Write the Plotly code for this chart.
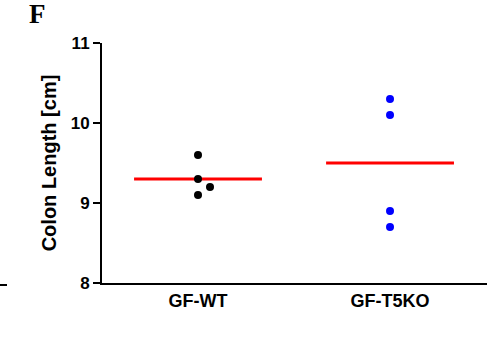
import plotly.graph_objects as go

categories = ["GF-WT", "GF-T5KO"]
wt_values = [9.6, 9.3, 9.1, 9.2]
ko_values = [10.3, 10.1, 8.9, 8.7]
wt_dodge = [0, 0, 0, 0.0625]
ko_dodge = [0, 0, 0, 0]
y_ticks = [8, 9, 10, 11]
panel_label = "F"

groups = [(wt_values, wt_dodge, "#000000"), (ko_values, ko_dodge, "#0000FF")]
half = 0.333

fig = go.Figure()
for i, (vals, dodge, col) in enumerate(groups):
    pos = i + 1
    mean = sum(vals) / len(vals)
    fig.add_trace(go.Scatter(x=[pos - half, pos + half], y=[mean, mean], mode="lines",
                             line=dict(color="#FF0000", width=3), showlegend=False, hoverinfo="skip"))
    fig.add_trace(go.Scatter(x=[pos + d for d in dodge], y=vals, mode="markers",
                             marker=dict(color=col, size=8), showlegend=False))

fig.update_layout(
    width=491, height=337,
    margin=dict(l=102, r=4, t=43, b=54),
    plot_bgcolor="white", paper_bgcolor="white",
    font=dict(family="Liberation Sans, Arial, sans-serif", color="black"),
    xaxis=dict(range=[0.5, 2.505], tickvals=[1, 2], ticktext=[f"<b>{c}</b>" for c in categories],
               tickfont=dict(size=18), showline=True, linecolor="black", linewidth=2,
               showgrid=False, zeroline=False, ticks="", ticklen=0),
    yaxis=dict(range=[8, 11], tickvals=y_ticks, ticktext=[f"<b>{t}</b>" for t in y_ticks],
               tickfont=dict(size=17), showline=True, linecolor="black", linewidth=2,
               showgrid=False, zeroline=False, ticks="outside", ticklen=7, tickwidth=2,
               tickcolor="black",
               title=dict(text="<b>Colon Length [cm]</b>", font=dict(size=20), standoff=9)),
    annotations=[dict(text=f"<b>{panel_label}</b>", xref="paper", yref="paper",
                      x=(27 - 102) / 385, y=1 + (43 - 14) / 240, xanchor="left", yanchor="middle",
                      showarrow=False, font=dict(family="Liberation Serif, Times New Roman, serif", size=27))],
    shapes=[dict(type="line", xref="paper", yref="paper", x0=-102 / 385, x1=(7 - 102) / 385,
                 y0=-2 / 240, y1=-2 / 240, line=dict(color="black", width=2))],
)

fig.write_html("out.html")
